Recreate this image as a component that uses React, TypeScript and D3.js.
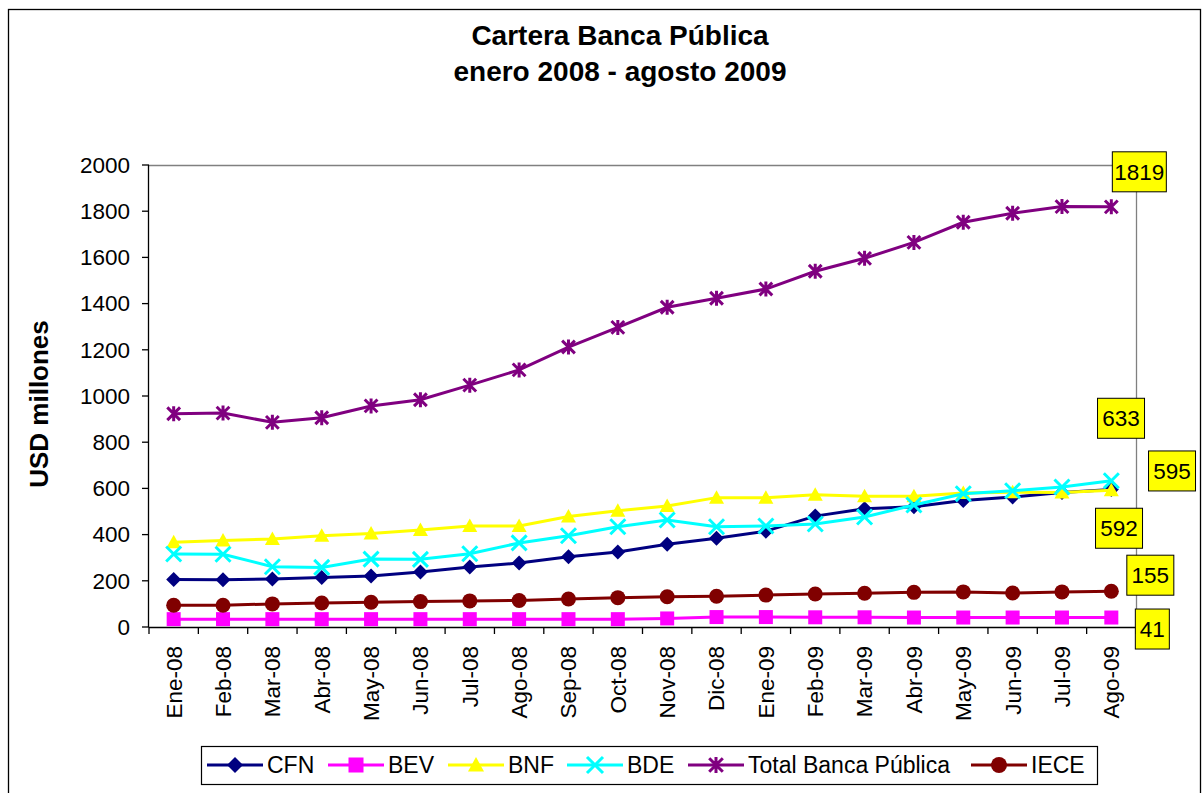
import React from "react";
import * as d3 from "d3";

const months = ["Ene-08","Feb-08","Mar-08","Abr-08","May-08","Jun-08","Jul-08","Ago-08","Sep-08","Oct-08","Nov-08","Dic-08","Ene-09","Feb-09","Mar-09","Abr-09","May-09","Jun-09","Jul-09","Ago-09"];

const cfn = [206, 205, 208, 214, 221, 238, 260, 277, 304, 325, 358, 384, 415, 480, 512, 521, 548, 563, 582, 595];
const bev = [34, 34, 34, 34, 34, 34, 34, 34, 34, 34, 37, 43, 43, 42, 42, 41, 41, 41, 41, 41];
const bnf = [367, 374, 381, 395, 405, 420, 437, 437, 478, 503, 524, 560, 560, 573, 566, 566, 580, 583, 582, 592];
const bde = [316, 315, 261, 258, 294, 293, 317, 364, 395, 434, 463, 434, 437, 446, 476, 528, 577, 590, 606, 633];
const total = [923, 926, 886, 906, 957, 984, 1047, 1113, 1212, 1297, 1384, 1423, 1463, 1540, 1596, 1665, 1752, 1791, 1820, 1819];
const iece = [94, 94, 100, 104, 107, 110, 113, 115, 121, 127, 131, 133, 138, 143, 146, 150, 152, 147, 152, 155];

const yTicks = [0, 200, 400, 600, 800, 1000, 1200, 1400, 1600, 1800, 2000];

const seriesNames = ["CFN", "BEV", "BNF", "BDE", "Total Banca Pública", "IECE"];
const seriesValues = [cfn, bev, bnf, bde, total, iece];
const seriesColors = ["#000080", "#FF00FF", "#FFFF00", "#00FFFF", "#800080", "#800000"];
const seriesMarkers = ["diamond", "square", "triangle", "x", "star", "circle"];

// layout constants (label offsets relative to last point, box width; legend item x)
const labelOffsets: [number, number, number][] = [
  [60.7, -18.6, 47],
  [41, 11.5, 34],
  [7.7, 38, 47],
  [9.7, -62.5, 47],
  [28, -35, 54],
  [39, -16, 47],
];
const legendX = [207, 328, 448, 567, 688, 971];

const FONT = "'Liberation Sans', Arial, sans-serif";

function Marker({ type, color, x, y, h = 7.5 }: { type: string; color: string; x: number; y: number; h?: number }) {
  const t = `translate(${x},${y})`;
  switch (type) {
    case "diamond":
      return <path transform={t} d={`M0,${-h}L${h},0L0,${h}L${-h},0Z`} fill={color} />;
    case "square":
      return <rect transform={t} x={-h + 0.5} y={-h + 0.5} width={2 * h - 1} height={2 * h - 1} fill={color} />;
    case "triangle":
      return <path transform={t} d={`M0,${-h}L${h},${h * 0.8}L${-h},${h * 0.8}Z`} fill={color} />;
    case "x":
      return (
        <path transform={t} d={`M${-h},${-h}L${h},${h}M${-h},${h}L${h},${-h}`} stroke={color} strokeWidth={3} fill="none" />
      );
    case "star":
      return (
        <path
          transform={t}
          d={`M${-h * 0.85},${-h * 0.85}L${h * 0.85},${h * 0.85}M${-h * 0.85},${h * 0.85}L${h * 0.85},${-h * 0.85}M0,${-h}L0,${h}`}
          stroke={color}
          strokeWidth={3}
          fill="none"
        />
      );
    default:
      return <circle transform={t} r={h} fill={color} />;
  }
}

export default function App() {
  const left = 149, right = 1136, top = 165, bottom = 627;
  const x = d3.scaleBand().domain(months).range([left, right]);
  const y = d3.scaleLinear().domain([0, 2000]).range([bottom, top]);
  const cx = (m: string) => (x(m) as number) + x.bandwidth() / 2;
  const line = d3
    .line<number>()
    .x((_, i) => cx(months[i]))
    .y((d) => y(d));

  const boundaries = months.map((m) => x(m) as number).concat([right]);

  return (
    <svg
      width={1202}
      height={793}
      style={{ position: "absolute", left: 0, top: 0, display: "block", background: "#fff" }}
      fontFamily={FONT}
    >
      <rect x={0} y={0} width={1202} height={793} fill="#fff" />
      <rect x={8.5} y={9.5} width={1192} height={800} fill="none" stroke="#000" strokeWidth={1.3} />

      <text x={620} y={45} textAnchor="middle" fontWeight="bold" fontSize={28}>
        Cartera Banca Pública
      </text>
      <text x={620} y={81} textAnchor="middle" fontWeight="bold" fontSize={28}>
        enero 2008 - agosto 2009
      </text>

      {/* plot frame */}
      <line x1={left} x2={right} y1={top + 0.5} y2={top + 0.5} stroke="#808080" strokeWidth={1.3} />
      <line x1={right + 0.5} x2={right + 0.5} y1={top} y2={bottom} stroke="#808080" strokeWidth={1.3} />

      {/* y axis */}
      <line x1={left - 0.5} x2={left - 0.5} y1={top} y2={bottom} stroke="#000" strokeWidth={1.3} />
      {yTicks.map((t) => (
        <g key={t}>
          <line x1={left - 7} x2={left} y1={y(t)} y2={y(t)} stroke="#000" strokeWidth={1.3} />
          <text x={130} y={y(t)} dy="0.35em" textAnchor="end" fontSize={22.5}>
            {t}
          </text>
        </g>
      ))}
      <text
        transform={`translate(48,404) rotate(-90)`}
        textAnchor="middle"
        fontWeight="bold"
        fontSize={26}
      >
        USD millones
      </text>

      {/* x axis */}
      <line x1={left} x2={right} y1={bottom + 0.5} y2={bottom + 0.5} stroke="#000" strokeWidth={1.3} />
      {boundaries.map((b, i) => (
        <line key={i} x1={b} x2={b} y1={bottom} y2={bottom + 7} stroke="#000" strokeWidth={1.3} />
      ))}
      {months.map((m) => (
        <text
          key={m}
          transform={`translate(${cx(m)},646) rotate(-90)`}
          textAnchor="end"
          dy="0.35em"
          fontSize={22.5}
        >
          {m}
        </text>
      ))}

      {/* series */}
      {seriesValues.map((vals, si) => (
        <g key={seriesNames[si]}>
          <path d={line(vals) as string} fill="none" stroke={seriesColors[si]} strokeWidth={3} />
          {vals.map((v, i) => (
            <Marker key={i} type={seriesMarkers[si]} color={seriesColors[si]} x={cx(months[i])} y={y(v)} />
          ))}
        </g>
      ))}

      {/* data labels */}
      {seriesValues.map((vals, si) => {
        const last = vals[vals.length - 1];
        const [dx, dy, w] = labelOffsets[si];
        const lx = cx(months[months.length - 1]) + dx;
        const ly = y(last) + dy;
        return (
          <g key={"lab" + si}>
            <rect x={lx - w / 2} y={ly - 20} width={w} height={40} fill="#FFFF00" stroke="#000" strokeWidth={1} />
            <text x={lx} y={ly} dy="0.36em" textAnchor="middle" fontSize={22.5}>
              {last}
            </text>
          </g>
        );
      })}

      {/* legend */}
      <rect x={201.5} y={746.5} width={896} height={38} fill="#fff" stroke="#000" strokeWidth={1.2} />
      {seriesNames.map((n, si) => (
        <g key={"leg" + si}>
          <line x1={legendX[si]} x2={legendX[si] + 56} y1={765} y2={765} stroke={seriesColors[si]} strokeWidth={3} />
          <Marker type={seriesMarkers[si]} color={seriesColors[si]} x={legendX[si] + 28} y={765} h={8} />
          <text x={legendX[si] + 60} y={765} dy="0.36em" fontSize={23}>
            {n}
          </text>
        </g>
      ))}
    </svg>
  );
}
